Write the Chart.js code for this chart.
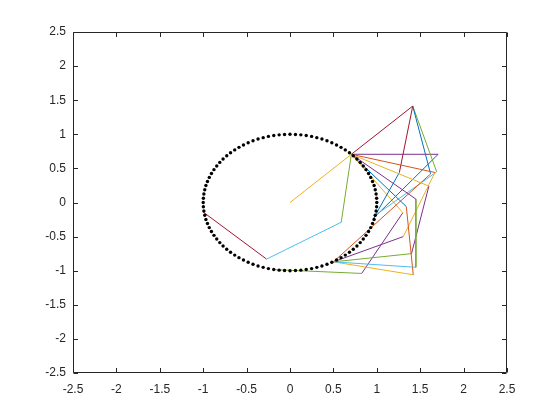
<!DOCTYPE html>
<html>
<head>
<meta charset="utf-8">
<script src="https://cdn.jsdelivr.net/npm/chart.js@4.4.1/dist/chart.umd.min.js"></script>
<style>
html,body{margin:0;padding:0;background:#fff;}
#wrap{width:560px;height:420px;}
</style>
</head>
<body>
<div id="wrap"><canvas id="c" width="560" height="420"></canvas></div>
<script>
// ---- data ----
const tickValues = [-2.5,-2,-1.5,-1,-0.5,0,0.5,1,1.5,2,2.5];
const tickLabels = ["-2.5","-2","-1.5","-1","-0.5","0","0.5","1","1.5","2","2.5"];

const circleX = [1.000,0.998,0.992,0.982,0.969,0.951,0.930,0.905,0.876,0.844,0.809,0.771,0.729,0.685,0.637,0.588,0.536,0.482,0.426,0.368,0.309,0.249,0.187,0.125,0.063,0.000,
-0.063,-0.125,-0.187,-0.249,-0.309,-0.368,-0.426,-0.482,-0.536,-0.588,-0.637,-0.685,-0.729,-0.771,-0.809,-0.844,-0.876,-0.905,-0.930,-0.951,-0.969,-0.982,-0.992,-0.998,-1.000,
-0.998,-0.992,-0.982,-0.969,-0.951,-0.930,-0.905,-0.876,-0.844,-0.809,-0.771,-0.729,-0.685,-0.637,-0.588,-0.536,-0.482,-0.426,-0.368,-0.309,-0.249,-0.187,-0.125,-0.063,0.000,
0.063,0.125,0.187,0.249,0.309,0.368,0.426,0.482,0.536,0.588,0.637,0.685,0.729,0.771,0.809,0.844,0.876,0.905,0.930,0.951,0.969,0.982,0.992,0.998];
const circleY = [0.000,0.063,0.125,0.187,0.249,0.309,0.368,0.426,0.482,0.536,0.588,0.637,0.685,0.729,0.771,0.809,0.844,0.876,0.905,0.930,0.951,0.969,0.982,0.992,0.998,1.000,
0.998,0.992,0.982,0.969,0.951,0.930,0.905,0.876,0.844,0.809,0.771,0.729,0.685,0.637,0.588,0.536,0.482,0.426,0.368,0.309,0.249,0.187,0.125,0.063,0.000,
-0.063,-0.125,-0.187,-0.249,-0.309,-0.368,-0.426,-0.482,-0.536,-0.588,-0.637,-0.685,-0.729,-0.771,-0.809,-0.844,-0.876,-0.905,-0.930,-0.951,-0.969,-0.982,-0.992,-0.998,-1.000,
-0.998,-0.992,-0.982,-0.969,-0.951,-0.930,-0.905,-0.876,-0.844,-0.809,-0.771,-0.729,-0.685,-0.637,-0.588,-0.536,-0.482,-0.426,-0.368,-0.309,-0.249,-0.187,-0.125,-0.063];

// line segments: start (x1,y1), end (x2,y2), colour-order index (1..7)
const segX1 = [0.000, 0.707, 0.707, 0.590,-0.270, 0.707, 1.450, 1.450, 0.707, 1.340, 1.420, 0.707, 1.600, 1.400, 0.707, 1.670, 1.305, 1.414, 1.620, 1.414, 1.260, 1.414, 1.690, 0.707, 1.707, 0.707, 1.300, 0.826];
const segY1 = [0.000, 0.707, 0.707,-0.290,-0.830, 0.707, 0.050,-0.950, 0.707,-0.060,-1.060, 0.707, 0.240,-0.750, 0.707, 0.440,-0.500, 1.414, 0.420, 1.414, 0.440, 1.414, 0.450, 0.707, 0.707, 0.707,-0.150,-1.040];
const segX2 = [0.707, 1.414, 0.590,-0.270,-1.000, 1.450, 1.450, 0.500, 1.340, 1.420, 0.500, 1.600, 1.400, 0.500, 1.670, 1.305, 0.500, 1.620, 0.500, 1.260, 0.960, 1.690, 0.980, 1.707, 0.970, 1.300, 0.826,-0.170];
const segY2 = [0.707, 1.414,-0.290,-0.830,-0.140, 0.050,-0.950,-0.870,-0.060,-1.060,-0.870, 0.240,-0.750,-0.870, 0.440,-0.500,-0.870, 0.420,-0.870, 0.440,-0.240, 0.450,-0.190, 0.707,-0.220,-0.150,-1.040,-0.985];
const segColorIdx = [3,7,5,6,7,4,5,6,1,2,3,3,4,5,2,3,4,1,2,7,1,5,6,4,1,3,4,5];

// ---- styles ----
const colorOrder = ['#0072BD','#D95319','#EDB120','#7E2F8E','#77AC30','#4DBEEE','#A2142F'];
const axisColor = '#262626';

const datasets = [];
datasets.push({
  label: 'circle',
  data: circleX.map((x, i) => ({x: x, y: circleY[i]})),
  showLine: false,
  pointRadius: 1.7,
  pointStyle: 'circle',
  pointBackgroundColor: '#000',
  pointBorderWidth: 0,
  borderWidth: 0
});
for (let i = 0; i < segX1.length; i++) {
  datasets.push({
    label: 's' + i,
    data: [{x: segX1[i], y: segY1[i]}, {x: segX2[i], y: segY2[i]}],
    showLine: true,
    borderColor: colorOrder[segColorIdx[i] - 1],
    borderWidth: 1,
    pointRadius: 0,
    fill: false,
    tension: 0
  });
}

const boxPlugin = {
  id: 'box',
  afterDraw(chart) {
    const ctx = chart.ctx;
    const a = chart.chartArea;
    const xs = chart.scales.x, ys = chart.scales.y;
    const L = Math.round(a.left) + 0.5, R = Math.round(a.right) - 0.5;
    const T = Math.round(a.top) + 0.5, B = Math.round(a.bottom) - 0.5;
    ctx.save();
    ctx.strokeStyle = axisColor;
    ctx.lineWidth = 1;
    ctx.beginPath();
    ctx.rect(L, T, R - L, B - T);
    const tl = 4.5;
    tickValues.forEach(v => {
      const px = Math.round(xs.getPixelForValue(v)) + 0.5;
      ctx.moveTo(px, B); ctx.lineTo(px, B - tl);
      ctx.moveTo(px, T); ctx.lineTo(px, T + tl);
      const py = Math.round(ys.getPixelForValue(v)) + 0.5;
      ctx.moveTo(L, py); ctx.lineTo(L + tl, py);
      ctx.moveTo(R, py); ctx.lineTo(R - tl, py);
    });
    ctx.stroke();
    ctx.restore();
  }
};

const tickFont = {family: "'Liberation Sans', Arial, Helvetica, sans-serif", size: 12};

new Chart(document.getElementById('c'), {
  type: 'scatter',
  data: {datasets: datasets},
  options: {
    responsive: false,
    animation: false,
    devicePixelRatio: 1,
    layout: {padding: {left: 0, top: 32, right: 53, bottom: 0}},
    plugins: {legend: {display: false}, tooltip: {enabled: false}},
    scales: {
      x: {
        type: 'linear', min: -2.5, max: 2.5,
        afterBuildTicks: s => { s.ticks = tickValues.map(v => ({value: v})); },
        afterFit: s => { s.height = 47; },
        grid: {display: false, drawTicks: false},
        border: {display: false},
        ticks: {
          color: axisColor, font: tickFont, padding: 9, maxRotation: 0, autoSkip: false,
          callback: (v) => tickLabels[tickValues.indexOf(v)]
        }
      },
      y: {
        type: 'linear', min: -2.5, max: 2.5,
        afterBuildTicks: s => { s.ticks = tickValues.map(v => ({value: v})); },
        afterFit: s => { s.width = 73; },
        grid: {display: false, drawTicks: false},
        border: {display: false},
        ticks: {
          color: axisColor, font: tickFont, padding: 7, autoSkip: false,
          callback: (v) => tickLabels[tickValues.indexOf(v)]
        }
      }
    }
  },
  plugins: [boxPlugin]
});
</script>
</body>
</html>
